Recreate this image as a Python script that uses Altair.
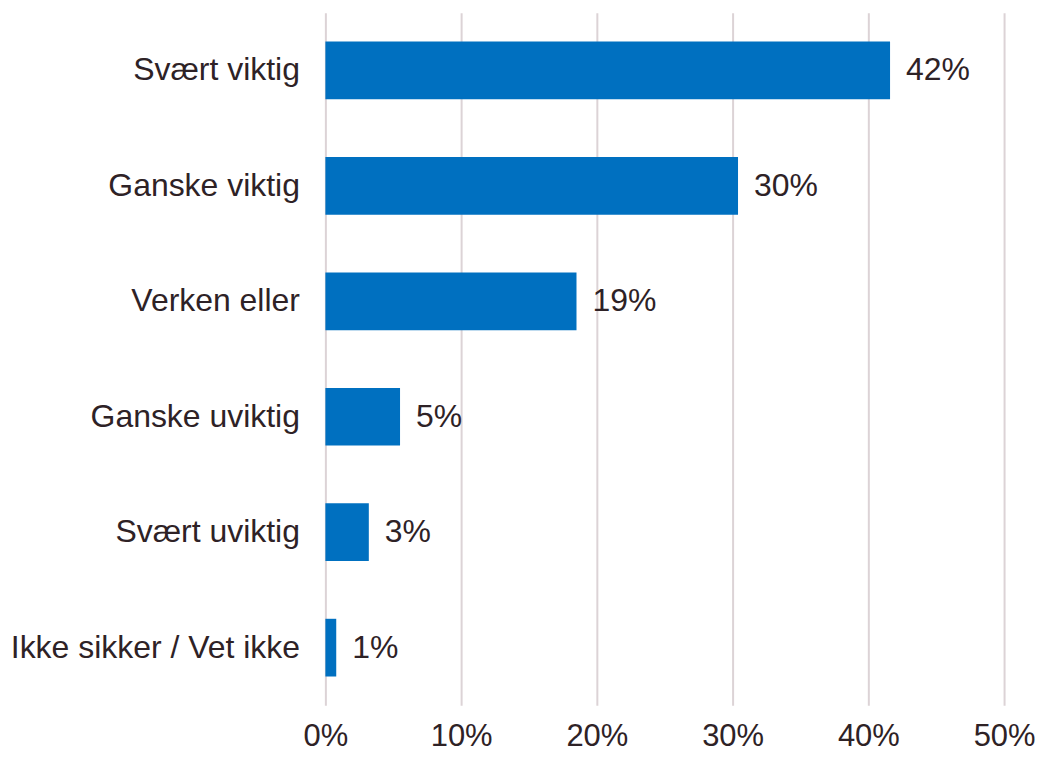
import altair as alt
import pandas as pd

categories = ["Svært viktig", "Ganske viktig", "Verken eller", "Ganske uviktig", "Svært uviktig", "Ikke sikker / Vet ikke"]
values = [41.6, 30.4, 18.5, 5.5, 3.2, 0.8]
labels = ["42%", "30%", "19%", "5%", "3%", "1%"]

df = pd.DataFrame({"cat": categories, "val": values, "lab": labels})

TEXT = "#2e2226"
FONT = "Liberation Sans"
FS = 32

y = alt.Y("cat:N", sort=categories, title=None,
          scale=alt.Scale(paddingInner=0.5, paddingOuter=0.25),
          axis=alt.Axis(labelFontSize=FS, labelFont=FONT, labelColor=TEXT,
                        labelPadding=26, ticks=False, domain=False, grid=False,
                        labelLimit=400))
x = alt.X("val:Q", title=None,
          scale=alt.Scale(domain=[0, 50], nice=False),
          axis=alt.Axis(values=[0, 10, 20, 30, 40, 50], labelExpr="datum.value + '%'",
                        labelFontSize=31, labelFont=FONT, labelColor=TEXT,
                        labelPadding=16, labelFlush=False, ticks=False, domain=False,
                        grid=True, gridColor="#dcd3d6", gridWidth=2))

bars = alt.Chart(df).mark_bar(color="#0070C0").encode(x=x, y=y)
text = alt.Chart(df).mark_text(align="left", baseline="middle", dx=16, fontSize=FS,
                               font=FONT, color=TEXT).encode(x="val:Q", y=alt.Y("cat:N", sort=categories), text="lab:N")

chart = (bars + text).properties(
    width=680, height=694,
    autosize=alt.AutoSizeParams(type="none"),
    padding={"left": 318, "top": 4, "right": 34, "bottom": 48},
).configure_view(stroke=None)

chart.save("out.html", embed_options={"renderer": "svg", "actions": False})
